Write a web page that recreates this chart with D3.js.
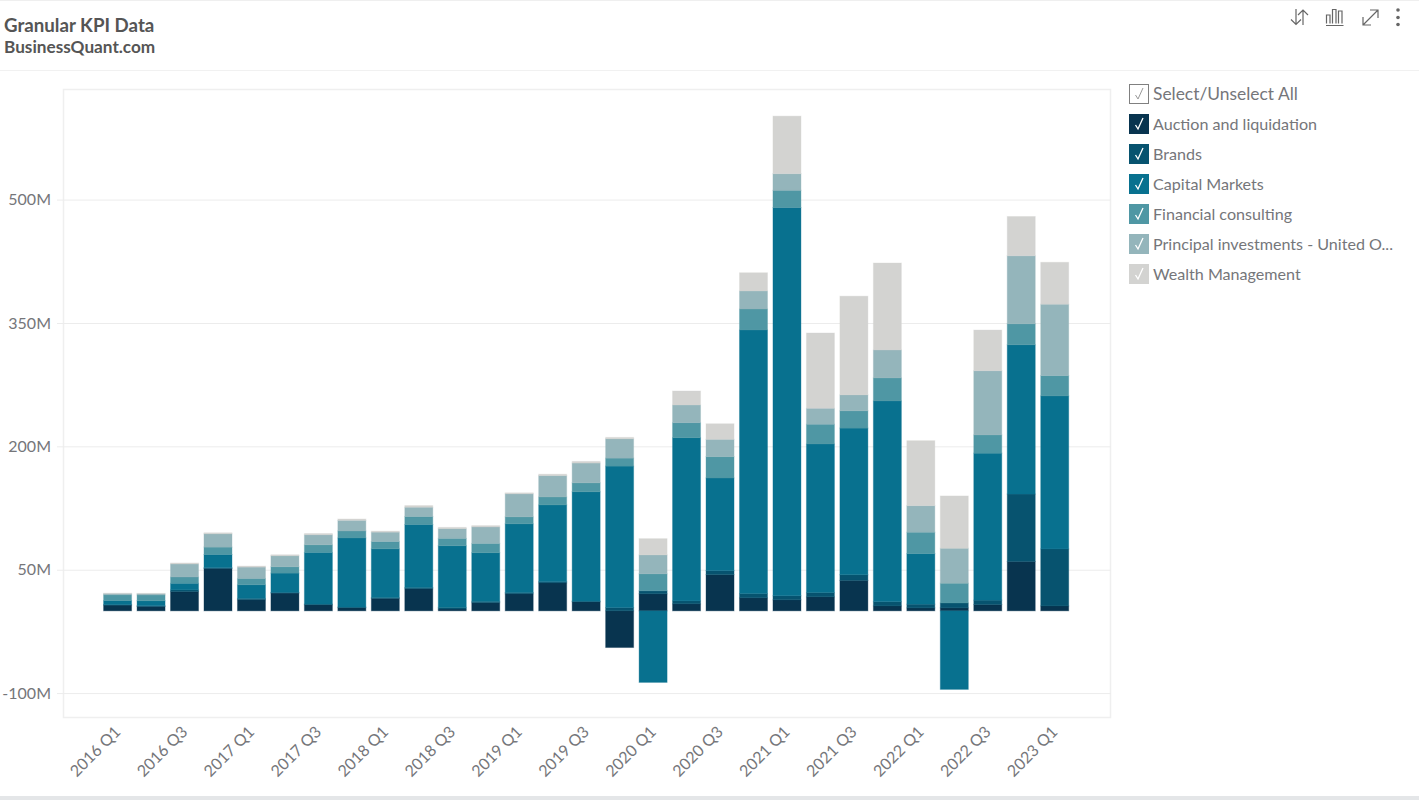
<!DOCTYPE html>
<html>
<head>
<meta charset="utf-8">
<title>Granular KPI Data</title>
<script src="https://cdn.jsdelivr.net/npm/d3@7"></script>
<style>
  html, body { margin: 0; padding: 0; background: #fff; overflow: hidden; }
  text { font-family: Lato, "Open Sans", sans-serif; }
  .axis path { display: none; }
  .axis line { stroke: #ececec; }
  .axis text { fill: #75767a; font-size: 16px; }
</style>
</head>
<body>
<svg id="chart" width="1419" height="800"></svg>
<script>
const quarters = ["2016 Q1","2016 Q2","2016 Q3","2016 Q4","2017 Q1","2017 Q2","2017 Q3","2017 Q4",
  "2018 Q1","2018 Q2","2018 Q3","2018 Q4","2019 Q1","2019 Q2","2019 Q3","2019 Q4",
  "2020 Q1","2020 Q2","2020 Q3","2020 Q4","2021 Q1","2021 Q2","2021 Q3","2021 Q4",
  "2022 Q1","2022 Q2","2022 Q3","2022 Q4","2023 Q1"]

// values in millions
const auction   = [7, 5.3, 23.5, 51.5, 13.5, 21.6, 7.4, 3.8, 15, 26.8, 2.2, 9.9, 20.7, 34, 11, -44.6, 20.7, 8.5, 44, 15.8, 13.4, 17, 37, 6, 3.6, 3.6, 7.7, 60, 6]
const brands    = [0.5, 1, 2, 1, 1.6, 0.8, 0.8, 0.8, 1.2, 1.6, 2, 1.6, 1.6, 1.6, 0.8, 4, 3.6, 3.6, 4.9, 5.2, 4.9, 5.2, 6.9, 5.2, 4.5, 6, 5.3, 82, 69.3]
const capital   = [5, 6, 8, 16, 16.6, 23.5, 62.8, 84, 59.2, 76.6, 75, 59.2, 83.5, 93.2, 133, 172, -87, 198.5, 112.6, 320.5, 472, 180.7, 178.3, 244, 61.5, -95.5, 178.7, 181.5, 186]
const financial = [7, 7, 7.7, 9, 7.7, 7.7, 9.3, 8.5, 8.9, 9.7, 8.9, 11.3, 8.5, 9.7, 10.9, 9.7, 20.7, 18.2, 26, 25.5, 21, 24, 21, 28, 26, 24, 22.2, 25.5, 24.7]
const principal = [1.5, 1.5, 15.8, 16.2, 13.8, 13.4, 12.2, 12.9, 11.4, 11.3, 11.8, 20, 28, 25.9, 24, 23.5, 23, 21.5, 21, 21.9, 20.2, 19.4, 19.4, 34, 32.3, 42.5, 78, 82.7, 86.8]
const wealth    = [0.5, 0.5, 1.2, 1.2, 1.2, 1.2, 1.5, 1.7, 1.2, 2, 1.6, 1.6, 1.2, 1.7, 2, 1.7, 19.8, 17, 19, 22.2, 70, 91.5, 120, 105.7, 79, 63.6, 49.5, 47.8, 51]

const seriesNames = ["Auction and liquidation","Brands","Capital Markets","Financial consulting","Principal investments - United O...","Wealth Management"]
const seriesValues = [auction, brands, capital, financial, principal, wealth]
const seriesColors = ["#08344f","#07536f","#08718f","#4f97a4","#94b5bb","#d3d3d1"]
const yTicks = [-100, 50, 200, 350, 500]

const svg = d3.select("#chart")

const rows = quarters.map((q, i) => {
  const row = { quarter: q }
  seriesNames.forEach((n, k) => { row[n] = seriesValues[k][i] })
  return row
})

const x = d3.scaleBand().domain(quarters).range([100.9, 1071.4]).paddingInner(0.163).paddingOuter(0.08)
const y = d3.scaleLinear().domain([-100, 500]).range([693.1, 199.6])

// page furniture
svg.append("rect").attr("x", 0).attr("y", 0).attr("width", 1419).attr("height", 1).attr("fill", "#efefef")
svg.append("rect").attr("x", 0).attr("y", 70).attr("width", 1419).attr("height", 1).attr("fill", "#f1f1f1")
svg.append("rect").attr("x", 0).attr("y", 796).attr("width", 1419).attr("height", 4).attr("fill", "#e4e6e8")
svg.append("text").attr("x", 4).attr("y", 32).text("Granular KPI Data")
  .style("font-size", "18.7px").style("font-weight", 700).style("fill", "#555")
svg.append("text").attr("x", 4).attr("y", 53).text("BusinessQuant.com")
  .style("font-size", "17.2px").style("font-weight", 700).style("fill", "#555")

// plot frame
svg.append("rect").attr("x", 63.5).attr("y", 89.5).attr("width", 1047).attr("height", 628)
  .attr("fill", "none").attr("stroke", "#efefef").attr("stroke-width", 1.5)

// y axis with gridlines
const yAxis = svg.append("g").attr("class", "axis").attr("transform", "translate(57,0)")
  .call(d3.axisLeft(y).tickValues(yTicks).tickSize(-1054).tickPadding(6).tickFormat(d => d + "M"))
yAxis.selectAll("text").attr("x", -6).style("text-anchor", "end")

// x axis, every second quarter, slanted
const xAxis = svg.append("g").attr("class", "axis").attr("transform", "translate(0,718)")
  .call(d3.axisBottom(x).tickValues(quarters.filter((q, i) => i % 2 == 0)).tickSize(0))
xAxis.selectAll("text")
  .attr("transform", "translate(-4,7) rotate(-45)")
  .attr("dy", "0.7em")
  .attr("x", 0).attr("y", 0)
  .style("text-anchor", "end")

// stacked bars
const stack = d3.stack().keys(seriesNames).offset(d3.stackOffsetDiverging)
const layers = svg.append("g").selectAll("g")
  .data(stack(rows))
  .join("g")
  .attr("fill", (d, i) => seriesColors[i])
  .attr("stroke", (d, i) => seriesColors[i])
  .attr("stroke-opacity", 0.35)

layers.selectAll("rect")
  .data(d => d)
  .join("rect")
  .attr("x", d => x(d.data.quarter))
  .attr("width", x.bandwidth())
  .attr("y", d => y(d[1]))
  .attr("height", d => y(d[0]) - y(d[1]))

// legend
const legendX = 1129
const check = "M -3.5,1 L -1,5 L 4,-6"

const all = svg.append("g").attr("transform", "translate(" + legendX + ",84)")
all.append("rect").attr("x", 0.5).attr("y", 0.5).attr("width", 19).attr("height", 19)
  .attr("fill", "#fff").attr("stroke", "#808080")
all.append("path").attr("d", check).attr("transform", "translate(10,10)")
  .attr("fill", "none").attr("stroke", "#999").attr("stroke-width", 1)
all.append("text").attr("x", 24).attr("y", 16).text("Select/Unselect All")
  .style("font-size", "17.4px").style("fill", "#75767a")

const legendItems = svg.append("g").selectAll("g")
  .data(seriesNames)
  .join("g")
  .attr("transform", (d, i) => "translate(" + legendX + "," + (114 + i * 30) + ")")
legendItems.append("rect").attr("width", 20).attr("height", 20).attr("fill", (d, i) => seriesColors[i])
legendItems.append("path").attr("d", check).attr("transform", "translate(10,10)")
  .attr("fill", "none").attr("stroke", "#fff").attr("stroke-width", 1.3)
legendItems.append("text").attr("x", 24).attr("y", 15.5).text(d => d)
  .style("font-size", "16.1px").style("fill", "#75767a")

// toolbar icons
const icons = svg.append("g").attr("fill", "none").attr("stroke", "#666").attr("stroke-width", 1.2)
icons.append("path").attr("d", "M1296,9 V24.5 M1291,19.5 L1296,24.5 L1301,19.5 M1303,25 V10 M1298,15 L1303,10 L1308,15")
icons.append("path").attr("d", "M1326,25.5 H1343.5 M1326.5,23.5 V15 H1330 V23.5 M1332.5,23.5 V9.5 H1336 V23.5 M1338.5,23.5 V11 H1342 V23.5")
icons.append("path").attr("d", "M1363,25 L1377.5,10.5 M1370,10 H1378 V18 M1363,17 V25 H1371")
svg.append("g").attr("fill", "#666").selectAll("circle")
  .data([10, 17.5, 24.5])
  .join("circle")
  .attr("cx", 1398).attr("cy", d => d).attr("r", 1.8)
</script>
</body>
</html>
